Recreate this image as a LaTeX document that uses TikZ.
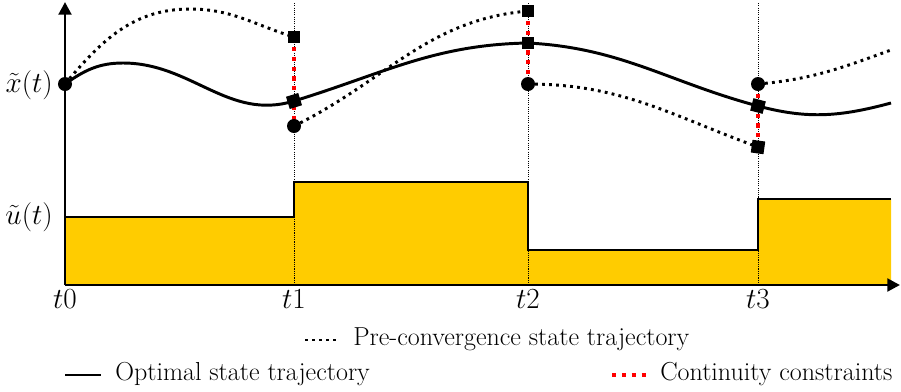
\documentclass[tikz,border=0pt]{standalone}
\usetikzlibrary{arrows.meta}
\definecolor{ctrlyellow}{HTML}{FFCC00}

\begin{document}
\begin{tikzpicture}[
  x=0.025cm, y=-0.025cm,
  font=\fontsize{18.5}{22}\selectfont,
  mathlabel/.style={font=\fontsize{20.74}{24}\selectfont},
  optimal/.style={line width=2.1pt},
  preconv/.style={line width=2.1pt, dash pattern=on 2pt off 3pt},
  contin/.style={red, line width=2.8pt, dash pattern=on 3pt off 4pt},
  gridline/.style={line width=0.6pt, dash pattern=on 0.8pt off 0.8pt},
  dotmark/.style={circle, fill, minimum size=0.35cm, inner sep=0pt},
  sqmark/.style={rectangle, fill, minimum size=0.32cm, inner sep=0pt},
  axis/.style={line width=2.1pt, -{Triangle[length=9pt,width=9pt]}},
]
  \useasboundingbox (0,0) rectangle (901,391);

  % piecewise constant control
  \fill[ctrlyellow] (65,285) -- (65,217) -- (294,217) -- (294,182)
    -- (528,182) -- (528,250) -- (758,250) -- (758,199)
    -- (891,199) -- (891,285) -- cycle;

  \foreach \k/\x in {0/65, 1/294, 2/528, 3/758} {
    \coordinate (top\k) at (\x,3);
    \coordinate (bot\k) at (\x,285);
    \node[mathlabel] (t\k) at (\x,299) {$t\k$};
  }
  \foreach \k in {1,2,3} {
    \draw[gridline] (top\k) -- (bot\k);
  }

  \draw[optimal] (65,217) -- (294,217) -- (294,182) -- (528,182)
    -- (528,250) -- (758,250) -- (758,199) -- (891,199);

  % axes
  \draw[axis] (bot0) -- (65,2);
  \draw[axis] (bot0) -- (900,285);

  \node[mathlabel, anchor=east, inner sep=0pt] (xlab) at (53,85) {$\tilde{x}(t)$};
  \node[mathlabel, anchor=east, inner sep=0pt] (ulab) at (53,217) {$\tilde{u}(t)$};

  % shooting nodes
  \coordinate (x0) at (65,84);
  \coordinate (a1) at (294,37);
  \coordinate (s1) at (294,101);
  \coordinate (b1) at (294,126);
  \coordinate (a2) at (528,11);
  \coordinate (s2) at (528,43);
  \coordinate (b2) at (528,84);
  \coordinate (b3) at (758,84);
  \coordinate (s3) at (758,106);
  \coordinate (a3) at (758,147);
  \coordinate (xend) at (891,103);
  \coordinate (pend) at (891,50);

  % continuity constraints
  \draw[contin] (a1) -- (b1);
  \draw[contin] (a2) -- (b2);
  \draw[contin] (b3) -- (a3);

  % optimal trajectory
  \draw[optimal] (x0) to[out=35,in=180] (123,63) to[out=0,in=197] (s1)
    to[out=17,in=181] (s2) to[out=-3,in=165] (s3) to[out=-15,in=195] (xend);

  % pre-convergence trajectory
  \draw[preconv] (x0) to[out=50,in=180] (190,9) to[out=0,in=163] (a1);
  \draw[preconv] (b1) to[out=26,in=185] (a2);
  \draw[preconv] (b2) to[out=0,in=160] (a3);
  \draw[preconv] (b3) to[out=5,in=200] (pend);

  \foreach \p in {x0,b1,b2,b3} {
    \node[dotmark] at (\p) {};
  }
  \foreach \p/\r in {a1/0, s1/17, a2/0, s2/0, s3/-15, a3/-8} {
    \node[sqmark, rotate=\r] at (\p) {};
  }

  % legend
  \coordinate (lgpreA) at (305,340);
  \coordinate (lgpreB) at (338,340);
  \draw[preconv] (lgpreA) -- (lgpreB);
  \node[anchor=base west, inner sep=0pt] (lgpre) at (353,345) {Pre-convergence state trajectory};

  \coordinate (lgoptA) at (65,375);
  \coordinate (lgoptB) at (101,375);
  \draw[optimal] (lgoptA) -- (lgoptB);
  \node[anchor=base west, inner sep=0pt] (lgopt) at (115,380) {Optimal state trajectory};

  \coordinate (lgconA) at (612,375);
  \coordinate (lgconB) at (648,375);
  \draw[contin] (lgconA) -- (lgconB);
  \node[anchor=base west, inner sep=0pt] (lgcon) at (660,380) {Continuity constraints};
\end{tikzpicture}
\end{document}
